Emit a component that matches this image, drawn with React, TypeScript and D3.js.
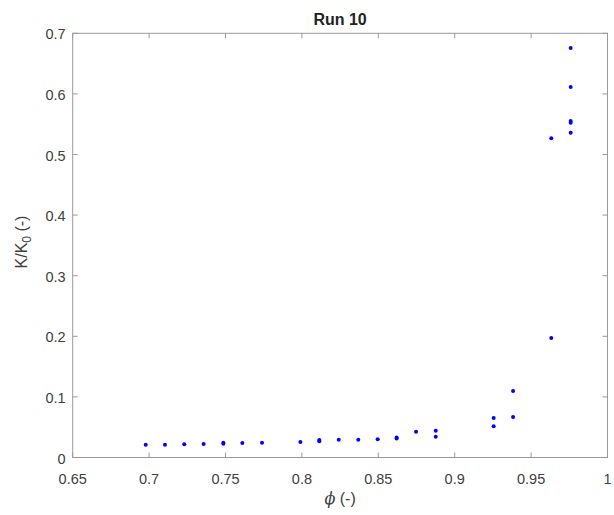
import React from "react";
import * as d3 from "d3";

const phiValues = [
  0.6978, 0.7104, 0.723, 0.7357, 0.7486, 0.7486, 0.761, 0.7739, 0.799,
  0.8114, 0.8114, 0.8241, 0.8369, 0.8496, 0.862, 0.862, 0.8747, 0.8876,
  0.8876, 0.9255, 0.9255, 0.9382, 0.9382, 0.9632, 0.9632, 0.9759, 0.9759,
  0.9759, 0.9759, 0.9759,
];
const kValues = [
  0.0211, 0.0211, 0.0218, 0.0223, 0.0226, 0.0242, 0.0239, 0.0244, 0.0256,
  0.0268, 0.0287, 0.0294, 0.0294, 0.03, 0.0312, 0.0332, 0.0426, 0.0343,
  0.0442, 0.0515, 0.0652, 0.0668, 0.1097, 0.197, 0.527, 0.536, 0.5525,
  0.5553, 0.6114, 0.6757,
];
const xTicks = [0.65, 0.7, 0.75, 0.8, 0.85, 0.9, 0.95, 1];
const yTicks = [0, 0.1, 0.2, 0.3, 0.4, 0.5, 0.6, 0.7];
const title = "Run 10";

const W = 614;
const H = 515;
const left = 72.7;
const right = 607.5;
const top = 33.3;
const bottom = 457.5;

export default function App() {
  const x = d3.scaleLinear().domain([0.65, 1]).range([left, right]);
  const y = d3.scaleLinear().domain([0, 0.7]).range([bottom, top]);
  const axisColor = "#9a9a9a";
  const textColor = "#404040";
  const font = "'Liberation Sans', Arial, Helvetica, sans-serif";
  const tickLen = 5;
  const fmt = (v: number) => d3.format("")(+v.toFixed(2));
  return (
    <svg
      width={W}
      height={H}
      style={{ position: "absolute", left: 0, top: 0, background: "#fff" }}
      fontFamily={font}
    >
      <rect x={0} y={0} width={W} height={H} fill="#fff" />
      <rect
        x={left}
        y={top}
        width={right - left}
        height={bottom - top}
        fill="none"
        stroke={axisColor}
        strokeWidth={1}
      />
      {xTicks.map((t) => (
        <g key={"x" + t}>
          <line x1={x(t)} x2={x(t)} y1={bottom} y2={bottom - tickLen} stroke={axisColor} />
          <line x1={x(t)} x2={x(t)} y1={top} y2={top + tickLen} stroke={axisColor} />
          <text
            x={x(t)}
            y={bottom + 26}
            textAnchor="middle"
            fontSize={14.5}
            fill={textColor}
          >
            {fmt(t)}
          </text>
        </g>
      ))}
      {yTicks.map((t) => (
        <g key={"y" + t}>
          <line x1={left} x2={left + tickLen} y1={y(t)} y2={y(t)} stroke={axisColor} />
          <line x1={right} x2={right - tickLen} y1={y(t)} y2={y(t)} stroke={axisColor} />
          <text
            x={left - 7}
            y={y(t) + 6}
            textAnchor="end"
            fontSize={14.5}
            fill={textColor}
          >
            {fmt(t)}
          </text>
        </g>
      ))}
      {phiValues.map((p, i) => (
        <circle key={i} cx={x(p)} cy={y(kValues[i])} r={2} fill="#0000ff" />
      ))}
      <text
        x={(left + right) / 2}
        y={25}
        textAnchor="middle"
        fontSize={16}
        fontWeight="bold"
        fill="#222"
      >
        {title}
      </text>
      <text
        x={(left + right) / 2}
        y={504}
        textAnchor="middle"
        fontSize={16}
        fill={textColor}
      >
        <tspan fontStyle="italic" fontFamily="'DejaVu Serif', serif">ϕ</tspan>
        <tspan> (-)</tspan>
      </text>
      <text
        transform={`translate(27, 242) rotate(-90)`}
        textAnchor="middle"
        fontSize={16}
        fill={textColor}
      >
        <tspan>K/K</tspan>
        <tspan dy={4} fontSize={12}>0</tspan>
        <tspan dy={-4}> (-)</tspan>
      </text>
    </svg>
  );
}
